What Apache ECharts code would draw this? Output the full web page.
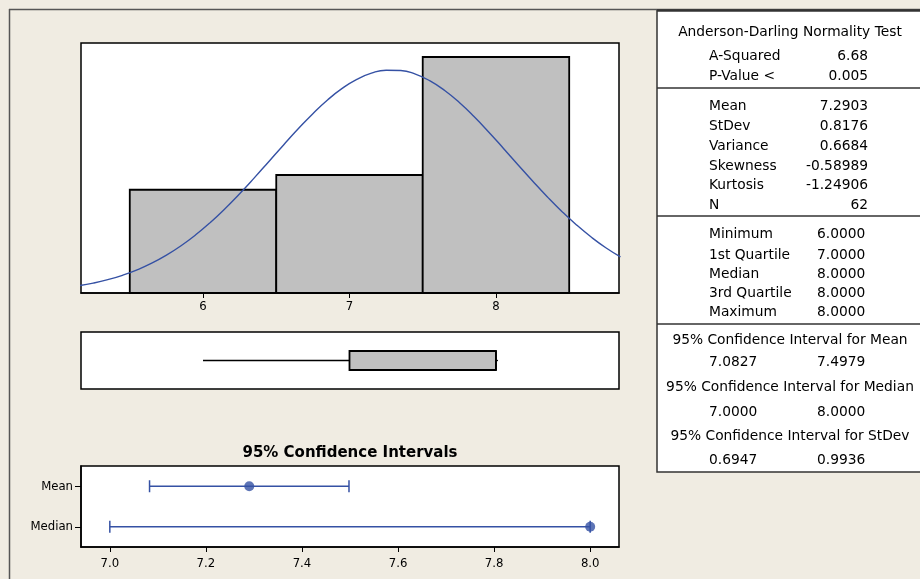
<!DOCTYPE html>
<html>
<head>
<meta charset="utf-8">
<script src="https://cdn.jsdelivr.net/npm/echarts@6/dist/echarts.min.js"></script>
<style>
html,body{margin:0;padding:0;background:#f0ece2;}
#chart{width:920px;height:579px;}
</style>
</head>
<body>
<div id="chart"></div>
<script>
// ---- Data ----
var binEdges = [5.5, 6.5, 7.5, 8.5];
var binCounts = [14, 16, 32];
var histTicks = [6, 7, 8];
var curveX = [5.15,5.25,5.35,5.45,5.55,5.65,5.75,5.85,5.95,6.05,6.15,6.25,6.35,6.45,6.55,6.65,6.75,6.85,6.95,7.05,7.15,7.25,7.35,7.45,7.55,7.65,7.75,7.85,7.95,8.05,8.15,8.25,8.35,8.45,8.55,8.65,8.75,8.85];
var curveY = [0.98,1.34,1.81,2.40,3.14,4.04,5.13,6.41,7.89,9.57,11.44,13.46,15.61,17.84,20.08,22.26,24.32,26.17,27.74,28.97,29.81,30.21,30.17,29.68,28.76,27.46,25.83,23.93,21.84,19.64,17.40,15.19,13.06,11.06,9.23,7.59,6.14,4.90];
var boxStats = [6, 7, 8, 8, 8]; // min, Q1, median, Q3, max
var ciCategories = ['Mean', 'Median'];
var ciLow = [7.0827, 7.0];
var ciHigh = [7.4979, 8.0];
var ciCenter = [7.2903, 8.0];
var ciTicks = [7.0, 7.2, 7.4, 7.6, 7.8, 8.0];

var adTitle = 'Anderson-Darling Normality Test';
var adLabels = ['A-Squared', 'P-Value <'];
var adValues = ['6.68', '0.005'];
var descLabels = ['Mean', 'StDev', 'Variance', 'Skewness', 'Kurtosis', 'N'];
var descValues = ['7.2903', '0.8176', '0.6684', '-0.58989', '-1.24906', '62'];
var quantLabels = ['Minimum', '1st Quartile', 'Median', '3rd Quartile', 'Maximum'];
var quantValues = ['6.0000', '7.0000', '8.0000', '8.0000', '8.0000'];
var ciTitles = ['95% Confidence Interval for Mean', '95% Confidence Interval for Median', '95% Confidence Interval for StDev'];
var ciTableLow = ['7.0827', '7.0000', '0.6947'];
var ciTableHigh = ['7.4979', '8.0000', '0.9936'];

// ---- Build ----
var NARROW = "'Liberation Sans Narrow','DejaVu Sans Condensed','Arial Narrow',sans-serif";
var TFONT = "'DejaVu Sans',Verdana,sans-serif";
var BLUE = '#3551a4';

var histData = binCounts.map(function (c, i) { return [binEdges[i], binEdges[i + 1], c]; });
var curveData = curveX.map(function (x, i) { return [x, curveY[i]]; });
var ciData = ciCategories.map(function (c, i) { return [ciLow[i], ciHigh[i], i]; });
var ciPoints = ciCategories.map(function (c, i) { return [ciCenter[i], i]; });

var graphics = [];
function txt(s, x, y, align, font) {
  graphics.push({ type: 'text', z: 10, style: { text: s, x: x, y: y, textAlign: align, textVerticalAlign: 'middle', font: font || ('13.8px ' + TFONT), fill: '#000' } });
}
function hline(x1, x2, y, w, c) {
  graphics.push({ type: 'line', z: 9, shape: { x1: x1, y1: y, x2: x2, y2: y }, style: { stroke: c || '#333', lineWidth: w || 1.5 } });
}
// outer frame
graphics.push({ type: 'line', z: 8, shape: { x1: 9.5, y1: 9, x2: 9.5, y2: 579 }, style: { stroke: '#555', lineWidth: 1.5 } });
hline(9, 920, 9.5, 1.5, '#555');
// table
graphics.push({ type: 'rect', z: 8, shape: { x: 657, y: 10, width: 280, height: 462 }, style: { fill: '#fff', stroke: '#333', lineWidth: 1.5 } });
hline(657, 920, 10.5, 2.5, '#333');
hline(657, 920, 88, 1.5);
hline(657, 920, 216, 1.5);
hline(657, 920, 324, 1.5);

txt(adTitle, 790, 32, 'center');
var adY = [56, 76];
adLabels.forEach(function (l, i) { txt(l, 709, adY[i], 'left'); txt(adValues[i], 868, adY[i], 'right'); });
var descY = [106, 126, 146, 166, 185, 205];
descLabels.forEach(function (l, i) { txt(l, 709, descY[i], 'left'); txt(descValues[i], 868, descY[i], 'right'); });
var quantY = [234, 255, 274, 293, 312];
quantLabels.forEach(function (l, i) { txt(l, 709, quantY[i], 'left'); txt(quantValues[i], 817, quantY[i], 'left'); });
var ciTY = [340, 387, 436];
var ciVY = [362, 412, 460];
ciTitles.forEach(function (t, i) {
  txt(t, 790, ciTY[i], 'center');
  txt(ciTableLow[i], 709, ciVY[i], 'left');
  txt(ciTableHigh[i], 817, ciVY[i], 'left');
});
// CI panel title
txt('95% Confidence Intervals', 350, 453, 'center', 'bold 15px ' + TFONT);

var chart = echarts.init(document.getElementById('chart'), null, { renderer: 'canvas' });
var gridCommon = { show: true, backgroundColor: '#fff', borderColor: '#000', borderWidth: 1.5, containLabel: false };
chart.setOption({
  backgroundColor: '#f0ece2',
  animation: false,
  graphic: graphics,
  grid: [
    Object.assign({ left: 81, top: 43, width: 538, height: 250 }, gridCommon),
    Object.assign({ left: 81, top: 332, width: 538, height: 57 }, gridCommon),
    Object.assign({ left: 81, top: 466, width: 538, height: 81 }, gridCommon)
  ],
  xAxis: [
    {
      gridIndex: 0, type: 'value', min: 5.167, max: 8.84,
      axisLine: { show: true, lineStyle: { color: '#000', width: 1.5 } },
      axisTick: { show: true, customValues: histTicks, length: 5, lineStyle: { color: '#000' } },
      axisLabel: { customValues: histTicks, color: '#000', fontSize: 13, fontFamily: NARROW, margin: 7 },
      splitLine: { show: false }
    },
    { gridIndex: 1, type: 'value', min: 5.167, max: 8.84, show: false },
    {
      gridIndex: 2, type: 'value', min: 6.94, max: 8.06,
      axisLine: { show: true, lineStyle: { color: '#000', width: 1.5 } },
      axisTick: { show: true, customValues: ciTicks, length: 5, lineStyle: { color: '#000' } },
      axisLabel: { customValues: ciTicks, color: '#000', fontSize: 13, fontFamily: NARROW, margin: 10,
        formatter: function (v) { return Number(v).toFixed(1); } },
      splitLine: { show: false }
    }
  ],
  yAxis: [
    { gridIndex: 0, type: 'value', min: 0, max: 33.9, show: false },
    { gridIndex: 1, type: 'value', min: 0, max: 1, show: false },
    {
      gridIndex: 2, type: 'category', data: ciCategories, inverse: true,
      axisLine: { show: true, lineStyle: { color: '#000', width: 1.5 } },
      axisTick: { show: true, alignWithLabel: true, length: 6, lineStyle: { color: '#000' } },
      axisLabel: { color: '#000', fontSize: 13, fontFamily: NARROW, margin: 8 },
      splitLine: { show: false }
    }
  ],
  series: [
    {
      type: 'custom', xAxisIndex: 0, yAxisIndex: 0, data: histData,
      encode: { x: [0, 1], y: 2 },
      renderItem: function (params, api) {
        var p0 = api.coord([api.value(0), 0]);
        var p1 = api.coord([api.value(1), api.value(2)]);
        return { type: 'rect', shape: { x: p0[0], y: p1[1], width: p1[0] - p0[0], height: p0[1] - p1[1] },
          style: { fill: '#c0c0c0', stroke: '#000', lineWidth: 1.8 } };
      }
    },
    {
      type: 'line', xAxisIndex: 0, yAxisIndex: 0, data: curveData, smooth: true,
      showSymbol: false, symbol: 'none', lineStyle: { color: BLUE, width: 1.4 }, z: 5
    },
    {
      type: 'custom', xAxisIndex: 1, yAxisIndex: 1, data: [boxStats],
      encode: { x: [0, 1, 2, 3, 4] },
      renderItem: function (params, api) {
        var mn = api.coord([api.value(0), 0.5]);
        var q1 = api.coord([api.value(1), 0.5]);
        var md = api.coord([api.value(2), 0.5]);
        var q3 = api.coord([api.value(3), 0.5]);
        var mx = api.coord([api.value(4), 0.5]);
        var h = 19;
        return { type: 'group', children: [
          { type: 'line', shape: { x1: mn[0], y1: mn[1], x2: q1[0], y2: q1[1] }, style: { stroke: '#000', lineWidth: 1.3 } },
          { type: 'line', shape: { x1: q3[0], y1: q3[1], x2: mx[0] + 2, y2: mx[1] }, style: { stroke: '#000', lineWidth: 1.3 } },
          { type: 'rect', shape: { x: q1[0], y: q1[1] - h / 2, width: q3[0] - q1[0], height: h }, style: { fill: '#c0c0c0', stroke: '#000', lineWidth: 1.8 } },
          { type: 'line', shape: { x1: md[0], y1: md[1] - h / 2, x2: md[0], y2: md[1] + h / 2 }, style: { stroke: '#000', lineWidth: 1.8 } }
        ] };
      }
    },
    {
      type: 'custom', xAxisIndex: 2, yAxisIndex: 2, data: ciData,
      encode: { x: [0, 1], y: 2 },
      renderItem: function (params, api) {
        var a = api.coord([api.value(0), api.value(2)]);
        var b = api.coord([api.value(1), api.value(2)]);
        var c = 6;
        return { type: 'group', children: [
          { type: 'line', shape: { x1: a[0], y1: a[1], x2: b[0], y2: b[1] }, style: { stroke: BLUE, lineWidth: 1.6 } },
          { type: 'line', shape: { x1: a[0], y1: a[1] - c, x2: a[0], y2: a[1] + c }, style: { stroke: BLUE, lineWidth: 1.5 } },
          { type: 'line', shape: { x1: b[0], y1: b[1] - c, x2: b[0], y2: b[1] + c }, style: { stroke: BLUE, lineWidth: 1.5 } }
        ] };
      }
    },
    {
      type: 'scatter', xAxisIndex: 2, yAxisIndex: 2, data: ciPoints, symbol: 'circle', symbolSize: 10,
      itemStyle: { color: BLUE }, z: 6
    }
  ]
});
</script>
</body>
</html>
